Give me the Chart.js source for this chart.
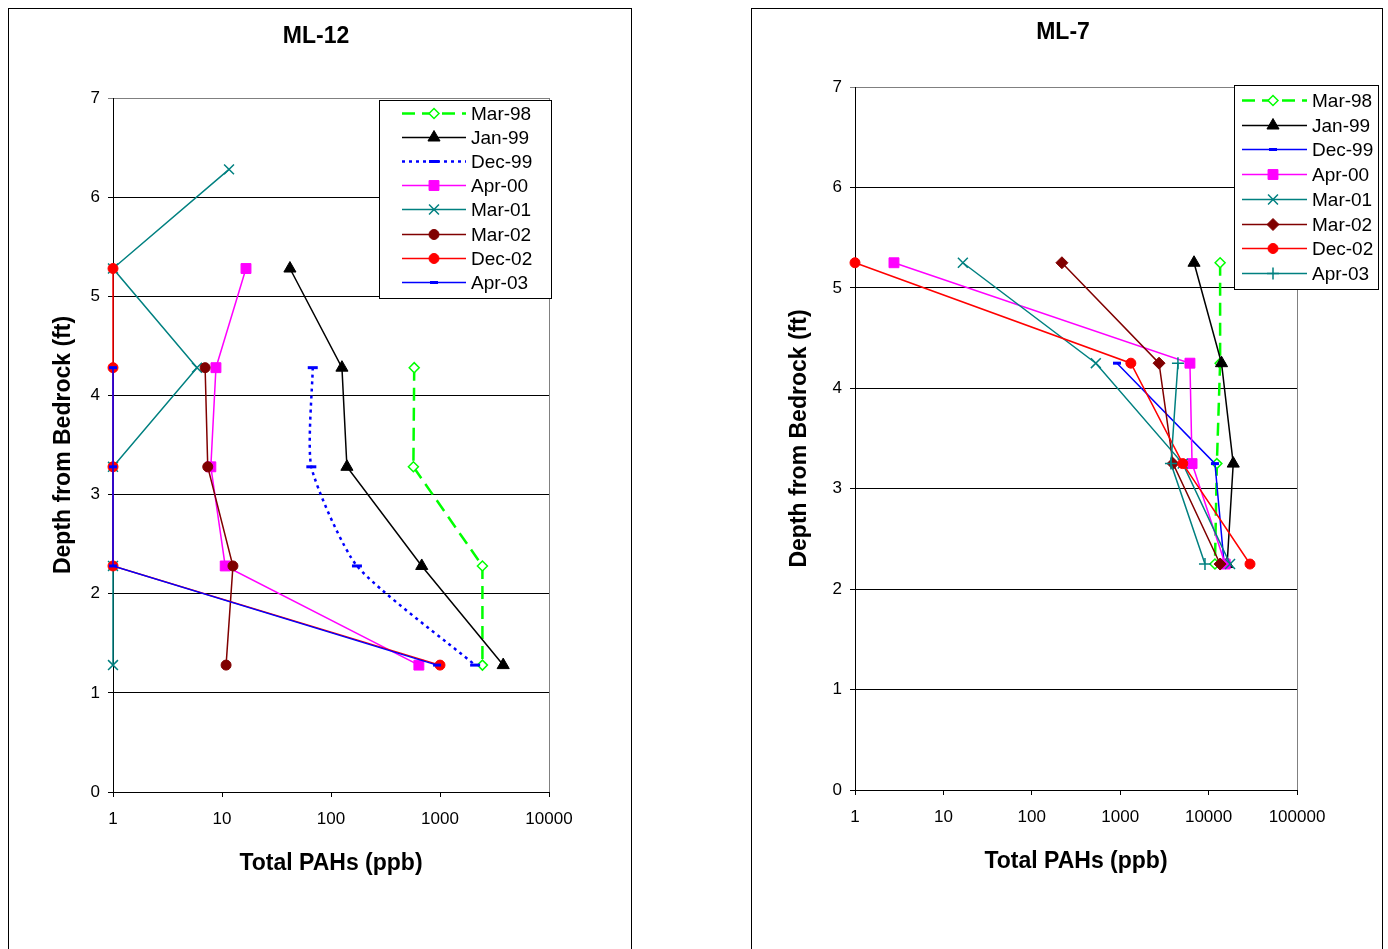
<!DOCTYPE html>
<html>
<head>
<meta charset="utf-8">
<script src="https://cdn.jsdelivr.net/npm/chart.js@4/dist/chart.umd.min.js"></script>
<style>
  body { margin: 0; background: #fff; width: 1388px; height: 949px; overflow: hidden; position: relative; }
  .box { position: absolute; top: 8px; border: 1px solid #000; height: 1000px; background: #fff; }
  #box12 { left: 8px; width: 622px; }
  #box7 { left: 751px; width: 630px; }
  canvas { display: block; }
</style>
</head>
<body>
<div class="box" id="box12"><canvas id="c12" width="622" height="960"></canvas></div>
<div class="box" id="box7"><canvas id="c7" width="630" height="960"></canvas></div>
<script>
// series names (same order in both charts)
const seriesNames = ['Mar-98', 'Jan-99', 'Dec-99', 'Apr-00', 'Mar-01', 'Mar-02', 'Dec-02', 'Apr-03'];

// ML-12 : depth (ft) and total PAHs (ppb), null = no sample
const depthsML12 = [6.28, 5.28, 4.28, 3.28, 2.28, 1.28];
const mar98_ML12 = [null, null, 580, 570, 2450, 2450];
const jan99_ML12 = [null, 42, 126, 140, 680, 3800];
const dec99_ML12 = [null, null, 68, 66, 173, 2100];
const apr00_ML12 = [null, 16.6, 8.8, 7.9, 10.7, 640];
const mar01_ML12 = [11.6, 1, 5.9, 1, 1, 1];
const mar02_ML12 = [null, null, 7.0, 7.4, 12.6, 10.9];
const dec02_ML12 = [null, 1, 1, 1, 1, 1000];
const apr03_ML12 = [null, null, 1, 1, 1, 940];

// ML-7
const depthsML7 = [5.25, 4.25, 3.25, 2.25];
const mar98_ML7 = [13500, 13500, 12400, 11800];
const jan99_ML7 = [6840, 14000, 19000, 16200];
const dec99_ML7 = [null, 920, 11800, 15000];
const apr00_ML7 = [2.76, 6150, 6500, 15400];
const mar01_ML7 = [16.6, 530, 5100, 17500];
const mar02_ML7 = [219, 2750, 3960, 13500];
const dec02_ML7 = [1, 1320, 5100, 29400];
const apr03_ML7 = [null, 4500, 3750, 9100];

// tick labels
const depthTicks = [0, 1, 2, 3, 4, 5, 6, 7];
const pahTicksML12 = [1, 10, 100, 1000, 10000];
const pahTicksML7 = [1, 10, 100, 1000, 10000, 100000];

const FONT = '"Liberation Sans", Arial, sans-serif';

function pts(depths, vals) {
    const out = [];
    vals.forEach((v, i) => { if (v !== null) out.push({ x: v, y: depths[i] }); });
    return out;
}

// marker / line styles
const green = '#00ff00', teal = '#008080', blue = '#0000ff', magenta = '#ff00ff', maroon = '#800000', red = '#ff0000';
const stylesML12 = [
    { c: green, w: 2.5, dash: [13, 7], ps: 'rectRot', r: 5, bg: '#fff', bw: 1.5 },
    { c: '#000', w: 1.5, ps: 'triangle', r: 7, bg: '#000', bw: 1 },
    { c: blue, w: 2.5, dash: [3, 4], ps: 'line', r: 5, bg: blue, bw: 3, tension: 0.2 },
    { c: magenta, w: 1.5, ps: 'rect', r: 7, bg: magenta, bw: 1 },
    { c: teal, w: 1.5, ps: 'crossRot', r: 7, bg: teal, bw: 1.5 },
    { c: maroon, w: 1.5, ps: 'circle', r: 5, bg: maroon, bw: 1 },
    { c: red, w: 1.5, ps: 'circle', r: 5, bg: red, bw: 1 },
    { c: blue, w: 1.5, ps: 'line', r: 4, bg: blue, bw: 3 }
];
const stylesML7 = [
    { c: green, w: 2.5, dash: [13, 7], ps: 'rectRot', r: 5, bg: '#fff', bw: 1.5 },
    { c: '#000', w: 1.5, ps: 'triangle', r: 7, bg: '#000', bw: 1 },
    { c: blue, w: 1.5, ps: 'line', r: 4, bg: blue, bw: 3 },
    { c: magenta, w: 1.5, ps: 'rect', r: 7, bg: magenta, bw: 1 },
    { c: teal, w: 1.5, ps: 'crossRot', r: 7, bg: teal, bw: 1.5 },
    { c: maroon, w: 1.5, ps: 'rectRot', r: 6, bg: maroon, bw: 1 },
    { c: red, w: 1.5, ps: 'circle', r: 5, bg: red, bw: 1 },
    { c: teal, w: 1.5, ps: 'cross', r: 6, bg: teal, bw: 1.5 }
];

function buildDatasets(depths, series, styles) {
    return series.map((vals, i) => {
        const s = styles[i];
        return {
            label: seriesNames[i],
            data: pts(depths, vals),
            showLine: true,
            borderColor: s.c,
            borderWidth: s.w,
            borderDash: s.dash || [],
            tension: s.tension || 0,
            pointStyle: s.ps,
            pointRadius: s.r,
            pointBackgroundColor: s.bg,
            pointBorderColor: s.c,
            pointBorderWidth: s.bw,
            clip: false,
            order: -i
        };
    });
}

// titles, plot frame and in-plot legend
const decor = {
    id: 'decor',
    beforeDraw(chart, args, o) {
        const { ctx, chartArea: a } = chart;
        ctx.save();
        ctx.strokeStyle = '#808080';
        ctx.lineWidth = 1;
        ctx.strokeRect(Math.round(a.left) + 0.5, Math.round(a.top) + 0.5, Math.round(a.right - a.left), Math.round(a.bottom - a.top));
        ctx.restore();
    },
    afterDraw(chart, args, o) {
        const { ctx, chartArea: a } = chart;
        ctx.save();
        ctx.fillStyle = '#000';
        ctx.textAlign = 'center';
        ctx.textBaseline = 'alphabetic';
        ctx.font = 'bold 23px ' + FONT;
        ctx.fillText(o.title, o.titleX, o.titleY);
        ctx.fillText('Total PAHs (ppb)', (a.left + a.right) / 2, o.xTitleY);
        ctx.translate(o.yTitleX, (a.top + a.bottom) / 2);
        ctx.rotate(-Math.PI / 2);
        ctx.fillText('Depth from Bedrock (ft)', 0, 0);
        ctx.restore();

        // legend box
        const lg = o.legend;
        ctx.save();
        ctx.fillStyle = '#fff';
        ctx.fillRect(lg.x, lg.y, lg.w, lg.h);
        ctx.strokeStyle = '#000';
        ctx.lineWidth = 1;
        ctx.strokeRect(lg.x + 0.5, lg.y + 0.5, lg.w, lg.h);
        chart.data.datasets.forEach((ds, i) => {
            const y = Math.round(lg.y + lg.first + i * lg.step) + 0.5;
            ctx.save();
            ctx.strokeStyle = ds.borderColor;
            ctx.lineWidth = ds.borderWidth;
            ctx.setLineDash(ds.borderDash);
            ctx.beginPath();
            ctx.moveTo(lg.line0, y);
            ctx.lineTo(lg.line1, y);
            ctx.stroke();
            ctx.setLineDash([]);
            ctx.fillStyle = ds.pointBackgroundColor;
            ctx.strokeStyle = ds.pointBorderColor;
            ctx.lineWidth = ds.pointBorderWidth;
            Chart.helpers.drawPoint(ctx, { pointStyle: ds.pointStyle, radius: ds.pointRadius, borderWidth: ds.pointBorderWidth, rotation: 0 }, lg.marker, y);
            ctx.restore();
            ctx.fillStyle = '#000';
            ctx.font = '19px ' + FONT;
            ctx.textAlign = 'left';
            ctx.textBaseline = 'middle';
            ctx.fillText(ds.label, lg.text, y + 1);
        });
        ctx.restore();
    }
};

function isDecade(v) {
    const l = Math.log10(v);
    return Math.abs(l - Math.round(l)) < 1e-6;
}

function makeChart(id, datasets, xTicks, area, decorOpts) {
    const canvas = document.getElementById(id);
    const W = canvas.width, H = canvas.height, xAxisH = 100;
    return new Chart(canvas, {
        type: 'scatter',
        data: { datasets: datasets },
        options: {
            responsive: false,
            animation: false,
            events: [],
            layout: { padding: { left: 0, top: area.top, right: W - area.right, bottom: H - area.bottom - xAxisH } },
            plugins: { legend: { display: false }, tooltip: { enabled: false }, decor: decorOpts },
            scales: {
                x: {
                    type: 'logarithmic',
                    min: xTicks[0],
                    max: xTicks[xTicks.length - 1],
                    afterBuildTicks: s => { s.ticks = s.ticks.filter(t => isDecade(t.value)); },
                    afterFit: s => { s.height = xAxisH; },
                    grid: { drawOnChartArea: false, drawTicks: true, tickLength: 5, color: '#000' },
                    border: { color: '#000', width: 1 },
                    ticks: { color: '#000', font: { size: 17, family: FONT }, padding: 12, maxRotation: 0, autoSkip: false, callback: v => String(v) }
                },
                y: {
                    type: 'linear',
                    min: depthTicks[0],
                    max: depthTicks[depthTicks.length - 1],
                    afterFit: s => { s.width = area.left; },
                    grid: { color: c => (c.tick && c.tick.value === 7) ? '#808080' : '#000', tickLength: 5 },
                    border: { color: '#000', width: 1 },
                    ticks: { stepSize: 1, color: '#000', font: { size: 17, family: FONT }, padding: 8 }
                }
            }
        },
        plugins: [decor]
    });
}

makeChart('c12',
    buildDatasets(depthsML12, [mar98_ML12, jan99_ML12, dec99_ML12, apr00_ML12, mar01_ML12, mar02_ML12, dec02_ML12, apr03_ML12], stylesML12),
    pahTicksML12,
    { left: 104, right: 540, top: 89, bottom: 783 },
    {
        title: 'ML-12', titleX: 307, titleY: 34, xTitleY: 861, yTitleX: 61,
        legend: { x: 370, y: 91, w: 172, h: 198, first: 13, step: 24.1, line0: 393, line1: 457, marker: 425, text: 462 }
    });

makeChart('c7',
    buildDatasets(depthsML7, [mar98_ML7, jan99_ML7, dec99_ML7, apr00_ML7, mar01_ML7, mar02_ML7, dec02_ML7, apr03_ML7], stylesML7),
    pahTicksML7,
    { left: 103, right: 545, top: 78, bottom: 781 },
    {
        title: 'ML-7', titleX: 311, titleY: 30, xTitleY: 859, yTitleX: 54,
        legend: { x: 482, y: 76, w: 144, h: 204, first: 15, step: 24.7, line0: 490, line1: 555, marker: 521, text: 560 }
    });
</script>
</body>
</html>
